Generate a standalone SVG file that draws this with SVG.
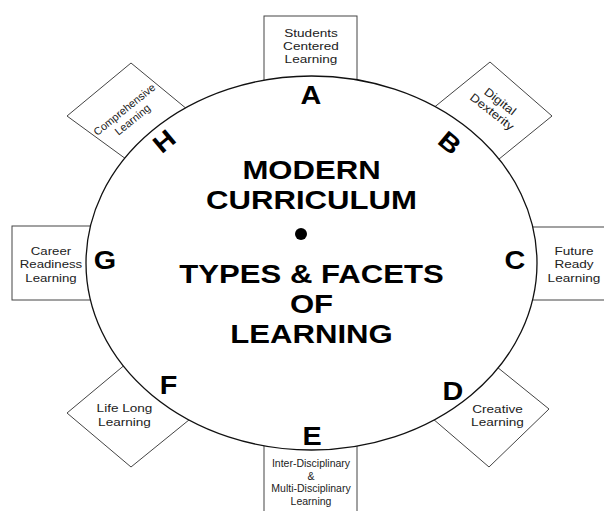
<svg xmlns="http://www.w3.org/2000/svg" width="604" height="511" viewBox="0 0 604 511">
<style>
.box{fill:#fff;stroke:#444;stroke-width:1}
.t{font-family:"Liberation Sans",Arial,sans-serif;fill:#222;text-anchor:middle;font-size:11.5px}
.big{font-family:"Liberation Sans",Arial,sans-serif;font-weight:bold;fill:#000;text-anchor:middle}
</style>
<rect width="604" height="511" fill="#fff"/>
<g id="nodeA"><rect class="box" x="264" y="16" width="93" height="110"/>
<text class="t" transform="translate(311,0) scale(1.18,1)"><tspan x="0" y="36.7">Students</tspan><tspan x="0" y="50">Centered</tspan><tspan x="0" y="63.3">Learning</tspan></text></g>
<g id="nodeB"><polygon class="box" points="490,62 552,116 472,181 405,131"/>
<text class="t" transform="translate(496.5,106) rotate(38) scale(1.15,1)"><tspan x="0" y="-2">Digital</tspan><tspan x="0" y="11.3">Dexterity</tspan></text></g>
<g id="nodeC"><rect class="box" x="460" y="227" width="150" height="73"/>
<text class="t" transform="translate(574,0) scale(1.18,1)"><tspan x="0" y="255">Future</tspan><tspan x="0" y="268.3">Ready</tspan><tspan x="0" y="281.6">Learning</tspan></text></g>
<g id="nodeD"><polygon class="box" points="549,409 471,346 404,394 489,467"/>
<text class="t" transform="translate(497.5,0) scale(1.18,1)"><tspan x="0" y="413">Creative</tspan><tspan x="0" y="426.3">Learning</tspan></text></g>
<g id="nodeE"><rect class="box" x="264" y="400" width="93" height="120"/>
<text class="t" style="font-size:10.5px"><tspan x="311" y="467">Inter-Disciplinary</tspan><tspan x="311" y="479.7">&amp;</tspan><tspan x="311" y="492.4">Multi-Disciplinary</tspan><tspan x="311" y="505">Learning</tspan></text></g>
<g id="nodeF"><polygon class="box" points="67,413 151,343 216,398 131,467"/>
<text class="t" transform="translate(124.5,0) scale(1.18,1)"><tspan x="0" y="412.5">Life Long</tspan><tspan x="0" y="425.8">Learning</tspan></text></g>
<g id="nodeG"><rect class="box" x="12" y="226" width="150" height="74"/>
<text class="t" transform="translate(51,0) scale(1.15,1)"><tspan x="0" y="255">Career</tspan><tspan x="0" y="268.3">Readiness</tspan><tspan x="0" y="281.6">Learning</tspan></text></g>
<g id="nodeH"><polygon class="box" points="131,63 216,133 152,178 67,116"/>
<text class="t" style="font-size:10.8px" transform="translate(128,114) rotate(-39)"><tspan x="0" y="-2">Comprehensive</tspan><tspan x="0" y="11">Learning</tspan></text></g>
<g id="center">
<ellipse cx="311.5" cy="263" rx="225.5" ry="187" fill="#fff" stroke="#111" stroke-width="1.3"/>
<g transform="translate(311.5,0) scale(1.22,1)" class="big" font-size="25.5">
<text x="0" y="179">MODERN</text>
<text x="0" y="209">CURRICULUM</text>
<text x="0" y="283.5">TYPES &amp; FACETS</text>
<text x="0" y="313.5">OF</text>
<text x="0" y="343.5">LEARNING</text>
</g>
<circle cx="301" cy="234" r="6" fill="#000"/>
</g>
<g id="letters" class="big" font-size="25">
<text transform="translate(311,104) scale(1.15,1)">A</text>
<text transform="translate(450,142.5) rotate(40) translate(0,9) scale(1.15,1)">B</text>
<text transform="translate(515,269) scale(1.15,1)">C</text>
<text transform="translate(453,399.5) scale(1.15,1)">D</text>
<text transform="translate(312,445) scale(1.15,1)">E</text>
<text transform="translate(168.5,393.5) scale(1.15,1)">F</text>
<text transform="translate(105,269) scale(1.15,1)">G</text>
<text transform="translate(164,141) rotate(-40) translate(0,9) scale(1.15,1)">H</text>
</g>
</svg>
